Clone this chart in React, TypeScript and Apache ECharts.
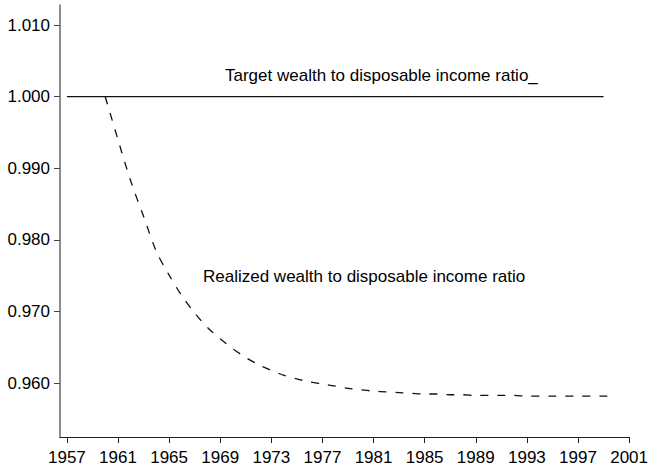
import React, { useEffect, useRef } from "react";
import * as echarts from "echarts";

const years: number[] = [
  1960, 1961, 1962, 1963, 1964, 1965, 1966, 1967, 1968, 1969,
  1970, 1971, 1972, 1973, 1974, 1975, 1976, 1977, 1978, 1979,
  1980, 1981, 1982, 1983, 1984, 1985, 1986, 1987, 1988, 1989,
  1990, 1991, 1992, 1993, 1994, 1995, 1996, 1997, 1998, 1999, 2000,
];
const realized: number[] = [
  1.0, 0.994, 0.9882, 0.9833, 0.9784, 0.9751, 0.9722, 0.9698, 0.9678, 0.9662,
  0.9648, 0.9636, 0.9626, 0.9618, 0.9611, 0.9606, 0.9602, 0.9599, 0.9596, 0.9593,
  0.9591, 0.9589, 0.9588, 0.9587, 0.9586, 0.9585, 0.9585, 0.9584, 0.9584, 0.9583,
  0.9583, 0.9583, 0.9583, 0.9582, 0.9582, 0.9582, 0.9582, 0.9582, 0.9582, 0.9582, 0.9582,
];
const targetYears: number[] = [1957, 1999];
const targetValues: number[] = [1.0, 1.0];
const xTicks: number[] = [1957, 1961, 1965, 1969, 1973, 1977, 1981, 1985, 1989, 1993, 1997, 2001];
const yTicks: number[] = [0.96, 0.97, 0.98, 0.99, 1.0, 1.01];
const targetLabel = "Target wealth to disposable income ratio_";
const realizedLabel = "Realized wealth to disposable income ratio";

const FONT = "'Liberation Sans', Arial, Helvetica, sans-serif";
const FS = 17;

export default function App() {
  const ref = useRef<HTMLDivElement>(null);
  useEffect(() => {
    if (!ref.current) return;
    const chart = echarts.init(ref.current, undefined, { renderer: "svg" });
    chart.setOption({
      animation: false,
      backgroundColor: "#ffffff",
      grid: { left: 60, right: 18, top: 5, bottom: 30, containLabel: false },
      xAxis: {
        type: "value",
        min: 1956.46,
        max: 2001,
        splitLine: { show: false },
        axisLine: { show: true, onZero: false, lineStyle: { color: "#222", width: 1.2 } },
        axisTick: {
          show: true,
          customValues: xTicks,
          length: 6,
          inside: false,
          lineStyle: { color: "#222", width: 1 },
        },
        axisLabel: {
          customValues: xTicks,
          margin: 12,
          color: "#000",
          fontFamily: FONT,
          fontSize: FS,
          formatter: (v: number) => String(Math.round(v)),
        },
      },
      yAxis: {
        type: "value",
        min: 0.9525,
        max: 1.0128,
        splitLine: { show: false },
        axisLine: { show: true, onZero: false, lineStyle: { color: "#666", width: 1.5 } },
        axisTick: {
          show: true,
          customValues: yTicks,
          length: 6,
          inside: false,
          lineStyle: { color: "#444", width: 1 },
        },
        axisLabel: {
          customValues: yTicks,
          margin: 10,
          color: "#000",
          fontFamily: FONT,
          fontSize: FS,
          formatter: (v: number) => v.toFixed(3),
        },
      },
      series: [
        {
          type: "line",
          data: targetYears.map((y, i) => [y, targetValues[i]]),
          showSymbol: false,
          symbol: "none",
          lineStyle: { color: "#111", width: 1.3, type: "solid" },
        },
        {
          type: "line",
          data: years.map((y, i) => [y, realized[i]]),
          showSymbol: false,
          symbol: "none",
          smooth: 0.3,
          lineStyle: { color: "#111", width: 1.3, type: [8, 9] },
        },
      ],
      graphic: [
        {
          type: "text",
          left: 225,
          top: 67,
          style: { text: targetLabel, fill: "#000", font: `${FS}px ${FONT}` },
        },
        {
          type: "text",
          left: 203,
          top: 268,
          style: { text: realizedLabel, fill: "#000", font: `${FS}px ${FONT}` },
        },
      ],
    });
    return () => chart.dispose();
  }, []);
  return <div ref={ref} style={{ width: 651, height: 467, position: "absolute", left: 0, top: 0 }} />;
}
